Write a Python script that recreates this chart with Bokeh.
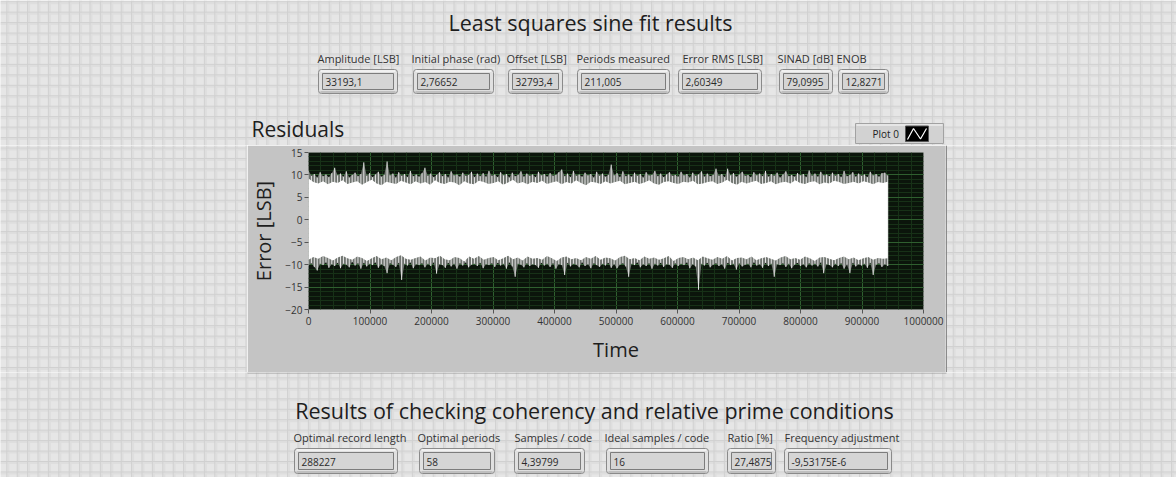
import numpy as np
from bokeh.plotting import figure
from bokeh.layouts import column, row
from bokeh.models import Range1d, SingleIntervalTicker, NumeralTickFormatter
from bokeh.core.properties import value
from bokeh.embed import file_html
from bokeh.resources import INLINE

# ---------------- data ----------------
fit_title = "Least squares sine fit results"
fit_labels = ["Amplitude [LSB]", "Initial phase (rad)", "Offset [LSB]", "Periods measured",
              "Error RMS [LSB]", "SINAD [dB]", "ENOB"]
fit_values = ["33193,1", "2,76652", "32793,4", "211,005", "2,60349", "79,0995", "12,8271"]

coh_title = "Results of checking coherency and relative prime conditions"
coh_labels = ["Optimal record length", "Optimal periods", "Samples / code",
              "Ideal samples / code", "Ratio [%]", "Frequency adjustment"]
coh_values = ["288227", "58", "4,39799", "16", "27,4875", "-9,53175E-6"]

graph_title = "Residuals"
legend_label = "Plot 0"
x_label = "Time"
y_label = "Error [LSB]"

record_end = 941850   # last sample index of the residual record

# dense white core of the residual trace (upper / lower edge), evenly over the record
band_top = [
    9.2, 8.4, 8.1, 8.6, 7.9, 8.5, 8.2, 8.8, 8.0, 8.3,
    8.6, 7.8, 8.4, 8.9, 8.1, 7.7, 8.5, 8.2, 8.0, 8.7,
    8.3, 7.9, 8.6, 8.1, 8.4, 7.8, 8.8, 8.2, 8.0, 8.5,
    8.3, 7.7, 8.6, 8.1, 7.9, 8.7, 8.4, 8.0, 8.2, 8.6,
    7.8, 8.3, 8.9, 8.1, 8.4, 7.9, 8.5, 8.2, 8.7, 8.0,
    8.3, 8.6, 7.9, 8.4, 8.1, 8.8, 8.2, 7.7, 8.5, 8.3,
    8.0, 8.6, 8.1, 8.4, 8.7, 7.9, 8.2, 8.5, 8.0, 8.3,
    8.8, 8.1, 7.8, 8.4, 8.6, 8.2, 8.0, 8.5, 8.3, 8.7,
    7.9, 8.1, 8.4, 8.6, 8.0, 8.3, 8.9, 8.2, 7.8, 8.5,
    8.1, 8.4, 8.7, 8.0, 8.2, 8.6, 7.9, 8.3, 8.5, 8.1,
    8.8, 8.2, 8.0, 8.4, 8.6, 7.9, 8.3, 8.1, 8.7, 8.4,
    8.0, 8.2, 8.5, 8.1, 8.6, 8.3, 7.9, 8.4, 8.2, 8.5,
]
band_bottom = [
    -8.9, -8.3, -8.7, -8.1, -8.5, -9.1, -8.4, -8.0, -8.6, -8.9,
    -8.2, -8.5, -9.2, -8.6, -8.1, -8.8, -8.4, -9.0, -8.3, -7.9,
    -8.7, -8.9, -8.5, -8.2, -9.1, -8.4, -8.6, -8.0, -8.8, -9.0,
    -8.3, -8.5, -9.3, -8.2, -8.7, -8.1, -8.9, -8.5, -8.3, -9.0,
    -8.6, -8.0, -8.8, -8.4, -9.1, -8.2, -8.7, -8.5, -8.9, -8.1,
    -8.6, -9.2, -8.4, -8.2, -8.8, -8.5, -9.0, -8.3, -8.7, -8.1,
    -8.9, -8.4, -8.6, -9.1, -8.3, -8.0, -8.8, -8.5, -9.0, -8.2,
    -8.7, -8.4, -8.9, -8.6, -8.1, -9.2, -8.5, -8.3, -8.8, -8.4,
    -9.0, -8.2, -8.6, -8.9, -8.3, -8.7, -8.1, -9.1, -8.5, -8.4,
    -8.8, -8.2, -9.0, -8.6, -8.3, -8.7, -9.1, -8.4, -8.1, -8.8,
    -8.5, -8.9, -8.2, -8.6, -9.2, -8.4, -8.3, -8.7, -9.0, -8.5,
    -8.2, -8.8, -8.4, -9.0, -8.6, -8.3, -8.9, -8.5, -8.7, -8.6,
]
# positive / negative peaks of the residuals, evenly over the record
upper_peak = [
    11.0, 9.8, 10.2, 9.4, 10.6, 9.7, 10.1, 9.5, 10.4, 11.6, 9.9, 10.3, 9.6, 10.8, 9.4, 10.0, 10.5, 9.7, 10.2, 12.8,
    9.8, 10.4, 9.5, 10.1, 10.7, 9.6, 10.0, 13.0, 9.9, 10.3, 9.4, 10.6, 9.8, 10.2, 9.5, 10.9, 9.7, 10.1, 9.6, 10.4,
    11.6, 9.8, 10.3, 9.5, 10.0, 10.6, 9.7, 10.2, 9.4, 10.8, 9.9, 10.1, 9.6, 10.5, 9.8, 10.0, 10.7, 9.5, 10.3, 9.7,
    10.4, 9.6, 10.9, 9.8, 10.1, 9.5, 10.6, 9.9, 10.2, 9.4, 10.5, 9.7, 10.0, 10.8, 9.6, 10.3, 9.8, 10.1, 9.5, 10.7,
    9.9, 10.2, 9.6, 10.4, 9.8, 10.0, 10.6, 11.2, 9.7, 10.3, 9.5, 10.9, 9.8, 10.1, 9.6, 10.5, 9.9, 10.2, 9.4, 10.7,
    9.8, 10.3, 9.6, 10.0, 12.3, 9.9, 10.4, 9.5, 10.8, 9.7, 10.1, 9.6, 10.5, 9.8, 10.2, 9.4, 10.6, 9.9, 10.0, 10.9,
    9.7, 10.3, 9.5, 10.1, 10.6, 9.8, 10.0, 9.6, 10.7, 9.9, 10.2, 9.4, 10.5, 9.8, 10.1, 10.8, 9.6, 10.3, 9.7, 10.0,
    11.4, 9.8, 10.2, 9.5, 11.4, 9.9, 10.4, 9.6, 10.1, 10.7, 9.8, 10.0, 9.5, 10.6, 9.9, 10.3, 9.7, 10.9, 9.6, 10.2,
    9.8, 10.5, 9.4, 10.1, 10.8, 9.7, 10.0, 9.6, 10.4, 9.9, 10.2, 9.5, 11.0, 9.8, 10.3, 9.6, 10.7, 9.9, 10.1, 9.7,
    10.5, 9.8, 10.2, 9.5, 10.9, 9.7, 10.0, 10.6, 9.6, 10.3, 9.8, 10.1, 9.5, 10.7, 9.9, 10.2, 9.6, 10.4, 10.5, 9.9,
]
lower_peak = [
    -10.2, -9.7, -10.5, -11.3, -9.8, -10.1, -9.5, -10.7, -9.9, -10.3, -9.6, -10.8, -9.8, -10.0, -10.6, -9.4, -10.2, -9.7, -10.9, -9.6,
    -10.4, -9.8, -10.1, -9.5, -10.7, -9.9, -10.3, -11.9, -9.7, -10.0, -10.5, -9.6, -13.4, -9.8, -10.2, -9.5, -10.8, -9.9, -10.1, -9.7,
    -10.6, -9.8, -10.3, -9.5, -12.0, -9.9, -10.1, -10.7, -9.6, -10.4, -9.8, -10.9, -9.7, -10.2, -9.5, -10.6, -10.0, -9.8, -10.3, -9.6,
    -10.8, -9.9, -10.1, -9.7, -10.5, -9.6, -10.2, -9.8, -10.9, -9.5, -10.4, -12.7, -9.8, -10.0, -10.6, -9.7, -10.3, -9.9, -10.1, -10.7,
    -9.6, -10.2, -9.8, -10.5, -9.7, -10.9, -9.9, -10.1, -12.3, -9.6, -10.4, -9.8, -10.0, -10.6, -9.5, -10.3, -9.9, -10.8, -9.7, -10.1,
    -10.5, -9.8, -10.2, -9.6, -10.7, -9.9, -10.8, -10.0, -9.7, -10.4, -12.7, -9.8, -10.1, -9.5, -10.6, -9.9, -10.3, -9.7, -10.9, -9.8,
    -10.2, -9.6, -10.5, -9.9, -10.0, -10.7, -9.7, -10.3, -9.8, -10.1, -9.5, -10.8, -9.9, -10.4, -15.6, -9.8, -10.2, -9.6, -10.6, -10.0,
    -9.7, -10.3, -9.9, -10.9, -9.6, -10.1, -9.8, -11.1, -9.7, -10.4, -10.0, -9.8, -10.6, -9.5, -10.2, -9.9, -10.7, -9.6, -10.3, -9.8,
    -12.7, -9.9, -10.1, -9.7, -10.5, -9.8, -10.8, -10.0, -9.6, -10.3, -9.9, -10.6, -9.7, -10.2, -9.8, -10.4, -9.5, -11.9, -9.9, -10.1,
    -10.6, -9.8, -10.3, -9.7, -10.9, -10.0, -11.9, -9.6, -10.4, -9.9, -10.2, -9.8, -10.7, -9.6, -12.3, -10.0, -9.7, -10.5, -9.9, -10.3,
]

# ---------------- styling / layout ----------------
FONT = "Open Sans"
PANEL_BG = "#e6e6e6"
GRID_DARK = "#d0d0d0"
GRID_LIGHT = "#dedede"
FRAME_GRAY = "#c4c4c4"
PLOT_BG = "#0b150b"
MAJOR_GRID = "#2f5f2f"
MINOR_GRID = "#173117"
TEXT = "#222222"


def canvas(x0, x1, y0, y1):
    """A plain drawing surface whose units are the panel's pixels."""
    p = figure(width=x1 - x0, height=y1 - y0,
               x_range=Range1d(x0, x1), y_range=Range1d(y1, y0),
               x_axis_location=None, y_axis_location=None,
               toolbar_location=None, tools="", output_backend="svg",
               min_border=0, outline_line_color=None, frame_align=False,
               background_fill_color=PANEL_BG, border_fill_color=PANEL_BG)
    p.grid.visible = False
    xs = np.arange(6.3, 1190, 10.4)
    xs = xs[(xs >= x0 - 3) & (xs <= x1 + 3)]
    ys = np.arange(1.2, 490, 10.45)
    ys = ys[(ys >= y0 - 3) & (ys <= y1 + 3)]
    p.segment(x0=xs + 1.5, y0=y0, x1=xs + 1.5, y1=y1, line_color=GRID_LIGHT, line_width=2)
    p.segment(x0=x0, y0=ys + 1.5, x1=x1, y1=ys + 1.5, line_color=GRID_LIGHT, line_width=2)
    p.segment(x0=xs, y0=y0, x1=xs, y1=y1, line_color=GRID_DARK, line_width=1)
    p.segment(x0=x0, y0=ys, x1=x1, y1=ys, line_color=GRID_DARK, line_width=1)
    return p


def txt(p, x, y, s, size, align="left", color=TEXT):
    p.text(x=[x], y=[y], text=[s], text_font=value(FONT), text_font_size=size,
           text_color=color, text_align=align, text_baseline="middle")


def indicators(p, labels, values, label_x, boxes, label_y, box_top, box_bot):
    for lab, val, lx, (bl, br) in zip(labels, values, label_x, boxes):
        txt(p, lx, label_y, lab, "11px", color="#333333")
        p.quad(left=bl, right=br, top=box_top, bottom=box_bot, border_radius=3,
               fill_color="#e0e0e0", line_color="#8a8a8a", line_width=1)
        p.segment(x0=bl + 2, y0=box_top + 1.5, x1=br - 2, y1=box_top + 1.5,
                  line_color="#f7f7f7", line_width=1.5)
        p.segment(x0=bl + 2, y0=box_bot - 1.5, x1=br - 2, y1=box_bot - 1.5,
                  line_color="#b4b4b4", line_width=1.5)
        p.quad(left=bl + 4, right=br - 4, top=box_top + 4, bottom=box_bot - 4,
               fill_color="#d5d5d5", line_color="#7c7c7c", line_width=1)
        txt(p, bl + 7, (box_top + box_bot) / 2 + 0.5, val, "10px", color="#2a2a2a")


# ---------- top part ----------
top = canvas(0, 1176, 0, 145)
txt(top, 590, 22, fit_title, "21.5px", align="center", color="#1e1e1e")
indicators(top, fit_labels, fit_values,
           [317, 411, 506, 576, 682, 777, 836],
           [(318, 397), (413, 493), (508, 562), (577, 669), (678, 761), (779, 832), (838, 888)],
           58, 69, 93)
txt(top, 251, 128, graph_title, "21px", color="#1e1e1e")
# legend box
top.quad(left=855, right=943, top=123, bottom=143, fill_color="#d2d2d2",
         line_color="#a2a2a2", line_width=1)
top.segment(x0=856, y0=124.5, x1=942, y1=124.5, line_color="#ececec", line_width=1.5)
txt(top, 872, 133, legend_label, "10px", color="#222222")
top.quad(left=905, right=928, top=125.5, bottom=141, fill_color="black", line_color="#555555")
top.line(x=[907, 913, 920, 926], y=[139, 128, 138.5, 128], line_color="white", line_width=1.2)

# ---------- middle: residual graph ----------
left = canvas(0, 247, 145, 372)
left.segment(x0=246.5, y0=145, x1=246.5, y1=372, line_color="#d9d9d9", line_width=1)
right = canvas(945, 1176, 145, 372)
right.quad(left=945, right=946.5, top=145, bottom=372, fill_color="#8a8a8a", line_color=None)

g = figure(width=945 - 247, height=372 - 145,
           x_range=Range1d(0, 1000000), y_range=Range1d(-20, 15),
           toolbar_location=None, tools="", output_backend="svg", frame_align=False,
           min_border_left=58, min_border_right=22, min_border_top=7, min_border_bottom=63,
           background_fill_color=PLOT_BG, border_fill_color=FRAME_GRAY,
           outline_line_color=None)
g.xaxis.ticker = SingleIntervalTicker(interval=100000, num_minor_ticks=5)
g.yaxis.ticker = SingleIntervalTicker(interval=5, num_minor_ticks=5)
g.xaxis.formatter = NumeralTickFormatter(format="0")
for gr in (g.xgrid, g.ygrid):
    gr.grid_line_color = MAJOR_GRID
    gr.minor_grid_line_color = MINOR_GRID
g.axis.axis_line_color = None
g.axis.major_tick_out = 4
g.axis.major_tick_in = 0
g.axis.major_tick_line_color = "#555555"
g.axis.minor_tick_line_color = None
g.axis.major_label_text_font = FONT
g.axis.major_label_text_font_size = "10px"
g.axis.major_label_text_color = "#333333"
g.axis.axis_label_text_font = FONT
g.axis.axis_label_text_font_size = "20px"
g.axis.axis_label_text_font_style = "normal"
g.axis.axis_label_text_color = "#1e1e1e"
g.xaxis.axis_label = x_label
g.yaxis.axis_label = y_label
g.xaxis.major_label_standoff = 3
g.yaxis.major_label_standoff = 2
g.xaxis.axis_label_standoff = 8
g.yaxis.axis_label_standoff = 5

peak_t = np.linspace(0, record_end, len(upper_peak))
peak_tl = np.linspace(0, record_end, len(lower_peak))
band_t = np.linspace(0, record_end, len(band_top))
# grey fringe of many overlapping samples, thin spikes, then the dense white core
g.varea(x=peak_t, y1=0, y2=upper_peak, fill_color="#6f746f")
g.varea(x=peak_tl, y1=lower_peak, y2=0, fill_color="#6f746f")
g.segment(x0=peak_t, y0=0, x1=peak_t, y1=upper_peak, line_color="#e6e6e6", line_width=1)
g.segment(x0=peak_tl, y0=0, x1=peak_tl, y1=lower_peak, line_color="#e6e6e6", line_width=1)
g.varea(x=band_t, y1=band_bottom, y2=band_top, fill_color="white")

# ---------- bottom part ----------
bottom = canvas(0, 1176, 372, 477)
bottom.segment(x0=247, y0=372.5, x1=946, y1=372.5, line_color="#9c9c9c", line_width=1)
txt(bottom, 594, 410, coh_title, "21.5px", align="center", color="#1e1e1e")
indicators(bottom, coh_labels, coh_values,
           [293, 417, 514, 604, 727, 784],
           [(294, 397), (419, 494), (514, 584), (606, 708), (727, 775), (784, 891)],
           437, 448, 473)

layout = column(top, row(left, g, right), bottom)
open("out.html", "w").write(file_html(layout, INLINE))
